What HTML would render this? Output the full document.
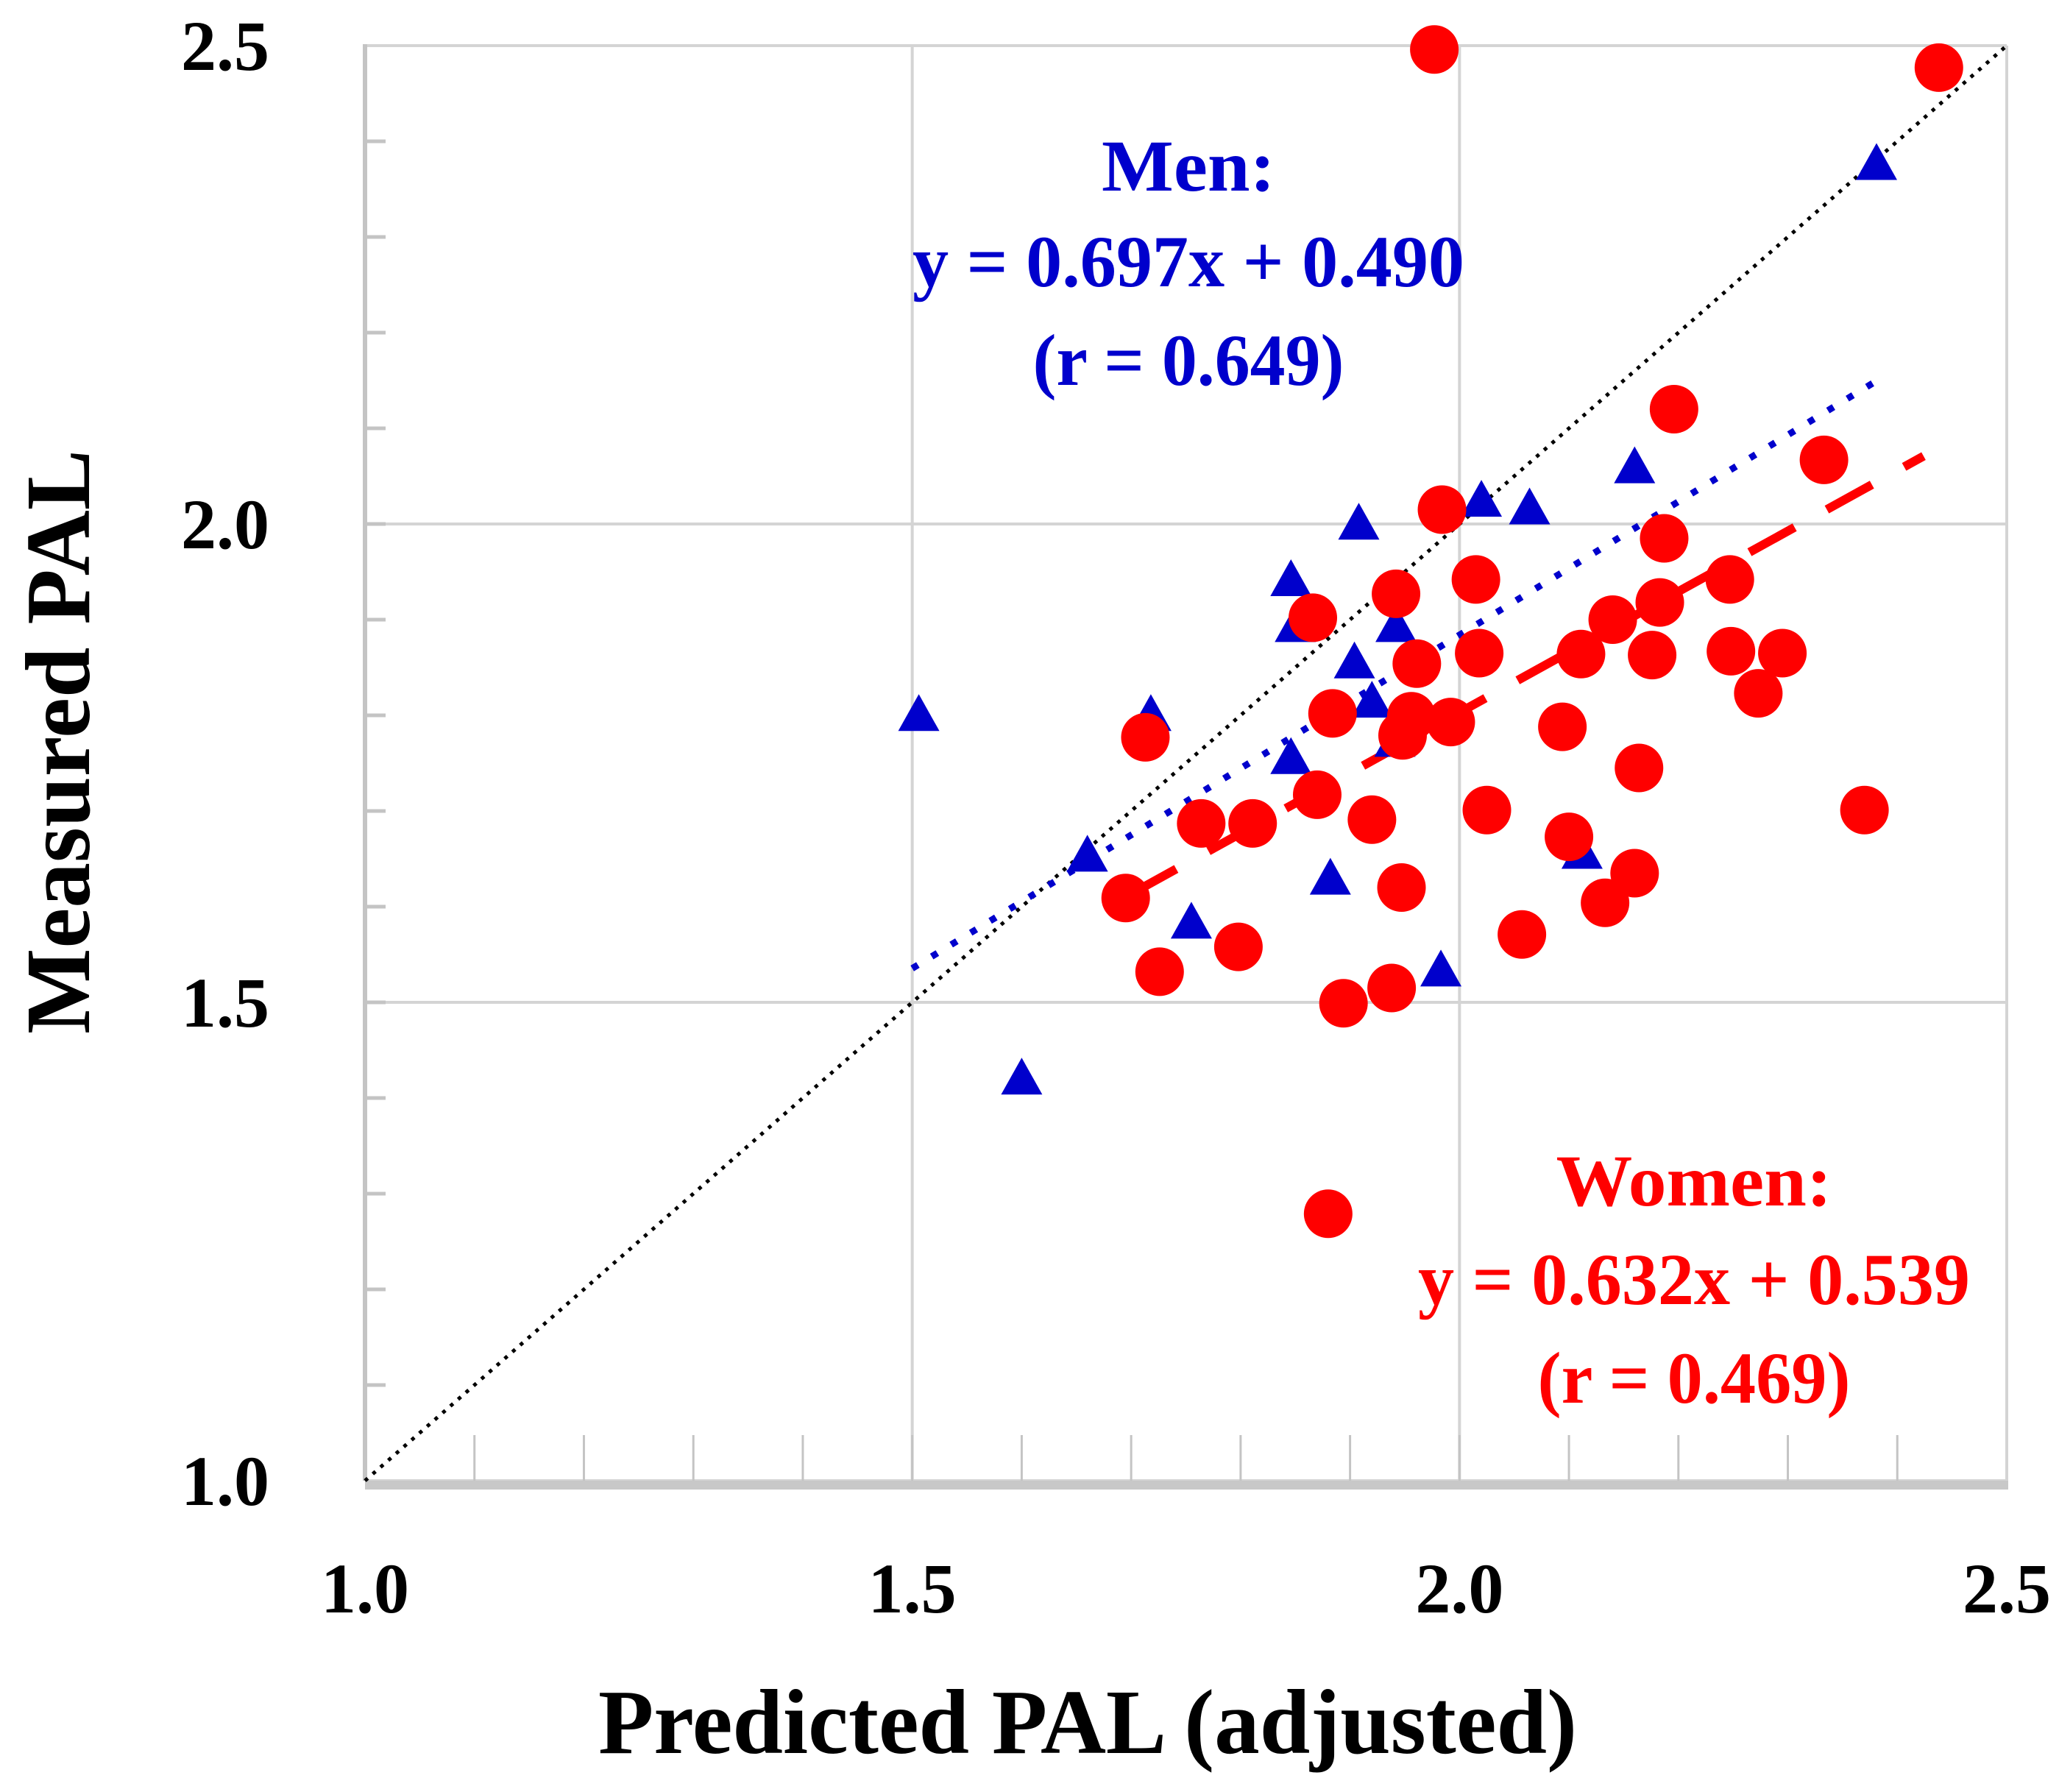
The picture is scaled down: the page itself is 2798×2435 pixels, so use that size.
<!DOCTYPE html>
<html><head><meta charset="utf-8"><style>
html,body{margin:0;padding:0;background:#fff;}
svg{display:block;font-family:"Liberation Serif",serif;font-weight:bold;}
</style></head><body>
<svg id="chart" width="2798" height="2435" viewBox="0 0 2798 2435" xmlns="http://www.w3.org/2000/svg">
<g id="grid"></g>
<g id="lines"></g>
<g id="marks"></g>
<g id="labels"></g>
<text x="1615" y="259" text-anchor="middle" font-size="100" fill="#0000cc" textLength="236" lengthAdjust="spacingAndGlyphs">Men:</text>
<text x="1615" y="389" text-anchor="middle" font-size="100" fill="#0000cc" textLength="750" lengthAdjust="spacingAndGlyphs">y = 0.697x + 0.490</text>
<text x="1615" y="523" text-anchor="middle" font-size="100" fill="#0000cc" textLength="423" lengthAdjust="spacingAndGlyphs">(r = 0.649)</text>
<text x="2302" y="1638" text-anchor="middle" font-size="100" fill="#ff0000" textLength="375" lengthAdjust="spacingAndGlyphs">Women:</text>
<text x="2302" y="1772" text-anchor="middle" font-size="100" fill="#ff0000" textLength="750" lengthAdjust="spacingAndGlyphs">y = 0.632x + 0.539</text>
<text x="2302" y="1906" text-anchor="middle" font-size="100" fill="#ff0000" textLength="425" lengthAdjust="spacingAndGlyphs">(r = 0.469)</text>
<text x="1478" y="2382" text-anchor="middle" font-size="125" fill="#000" textLength="1330" lengthAdjust="spacingAndGlyphs">Predicted PAL (adjusted)</text>
<text transform="translate(121,1008) rotate(-90)" x="0" y="0" text-anchor="middle" font-size="125" fill="#000" textLength="794" lengthAdjust="spacingAndGlyphs">Measured PAL</text>
</svg>
<script>
var xTicks = [1.0, 1.5, 2.0, 2.5];
var yTicks = [1.0, 1.5, 2.0, 2.5];
var tickLabels = ["1.0", "1.5", "2.0", "2.5"];
var womenX = [1.977,2.438,2.196,2.333,1.984,2.187,2.015,2.247,1.942,1.866,2.183,2.140,2.018,1.961,2.111,2.176,2.248,2.295,2.273,1.884,1.956,1.992,1.948,2.094,1.713,2.164,1.870,2.025,2.370,1.764,1.811,1.920,2.100,2.160,1.947,1.695,2.133,1.798,2.057,1.726,1.894,1.938,1.880];
var womenY = [2.496,2.477,2.120,2.067,2.015,1.985,1.942,1.942,1.927,1.902,1.918,1.900,1.865,1.854,1.864,1.863,1.867,1.865,1.823,1.802,1.799,1.793,1.779,1.788,1.777,1.745,1.717,1.701,1.701,1.687,1.687,1.691,1.673,1.635,1.620,1.609,1.604,1.558,1.571,1.532,1.499,1.515,1.279];
var menX = [1.506,1.718,1.600,1.660,1.755,1.846,1.850,1.882,1.908,1.904,1.920,1.942,1.941,1.846,1.983,2.020,2.064,2.160,2.112,2.381];
var menY = [1.799,1.799,1.419,1.652,1.582,1.940,1.892,1.628,1.999,1.854,1.813,1.892,1.772,1.754,1.532,2.023,2.015,2.058,1.655,2.375];
var menFit = [0.697, 0.490], menRange = [1.5, 2.38];
var womenFit = [0.632, 0.539], womenRange = [1.7, 2.424];

var NS = "http://www.w3.org/2000/svg";
var X0 = 496, X1 = 2727, Y0 = 2012, Y1 = 62;
function sx(v){ return X0 + (v - 1.0) / 1.5 * (X1 - X0); }
function sy(v){ return Y0 - (v - 1.0) / 1.5 * (Y0 - Y1); }
function mk(tag, attrs, parent){
  var e = document.createElementNS(NS, tag);
  for (var k in attrs) e.setAttribute(k, attrs[k]);
  parent.appendChild(e); return e;
}
var grid = document.getElementById("grid");
var lines = document.getElementById("lines");
var marks = document.getElementById("marks");
var labels = document.getElementById("labels");
var gc = "#d4d4d4";
// gridlines
for (var i = 0; i < xTicks.length; i++){
  var g = mk("line", {x1: sx(xTicks[i]), x2: sx(xTicks[i]), y1: Y1, y2: Y0, stroke: gc, "stroke-width": 4}, grid);
  
  
  var h = mk("line", {x1: X0, x2: X1, y1: sy(yTicks[i]), y2: sy(yTicks[i]), stroke: gc, "stroke-width": 4}, grid);
  
  
}
// minor ticks
for (var t = 1; t < 15; t++){
  var v = 1.0 + t * 0.1;
  var a = mk("line", {x1: X0, x2: X0 + 28, y1: sy(v), y2: sy(v), stroke: "#c4c4c4", "stroke-width": 5}, grid);
  
  
  var b = mk("line", {x1: sx(v), x2: sx(v), y1: Y0, y2: Y0 - 62, stroke: "#c4c4c4", "stroke-width": 3}, grid);
  
  
}
var la = mk("line", {x1: X0, x2: X0, y1: Y1 - 2, y2: Y0, stroke: "#c4c4c4", "stroke-width": 6}, grid);


var ba = mk("line", {x1: X0, x2: X1 + 2, y1: Y0 + 6, y2: Y0 + 6, stroke: "#c8c8c8", "stroke-width": 12}, grid);


// identity line
var id = mk("line", {x1: sx(1.0), y1: sy(1.0), x2: sx(2.5), y2: sy(2.5), stroke: "#000", "stroke-width": 5, "stroke-dasharray": "5 9"}, lines);


// regression lines
var ml = mk("line", {x1: sx(menRange[0]), y1: sy(menFit[0]*menRange[0]+menFit[1]), x2: sx(menRange[1]), y2: sy(menFit[0]*menRange[1]+menFit[1]), stroke: "#0000cc", "stroke-width": 9, "stroke-dasharray": "9 22"}, lines);


var wl = mk("line", {x1: sx(womenRange[0]), y1: sy(womenFit[0]*womenRange[0]+womenFit[1]), x2: sx(womenRange[1]), y2: sy(womenFit[0]*womenRange[1]+womenFit[1]), stroke: "#ff0000", "stroke-width": 12, "stroke-dasharray": "70 50"}, lines);


// men triangles
for (var m = 0; m < menX.length; m++){
  var cx = sx(menX[m]), cy = sy(menY[m]);
  var p = mk("polygon", {points: (cx)+","+(cy-30)+" "+(cx-28)+","+(cy+20)+" "+(cx+28)+","+(cy+20), fill: "#0000cc"}, marks);
  
  
}
// women circles
for (var w = 0; w < womenX.length; w++){
  var c = mk("circle", {cx: sx(womenX[w]), cy: sy(womenY[w]), r: 33, fill: "#ff0000"}, marks);
  
  
}
// tick labels
for (var k = 0; k < tickLabels.length; k++){
  var yl = mk("text", {x: 366, y: sy(yTicks[k]) + 33, "text-anchor": "end", "font-size": 96, fill: "#000"}, labels);
  yl.textContent = tickLabels[k];
  
  
  var xl = mk("text", {x: sx(xTicks[k]), y: 2191, "text-anchor": "middle", "font-size": 96, fill: "#000"}, labels);
  xl.textContent = tickLabels[k];
  
  
}
</script>
</body></html>
